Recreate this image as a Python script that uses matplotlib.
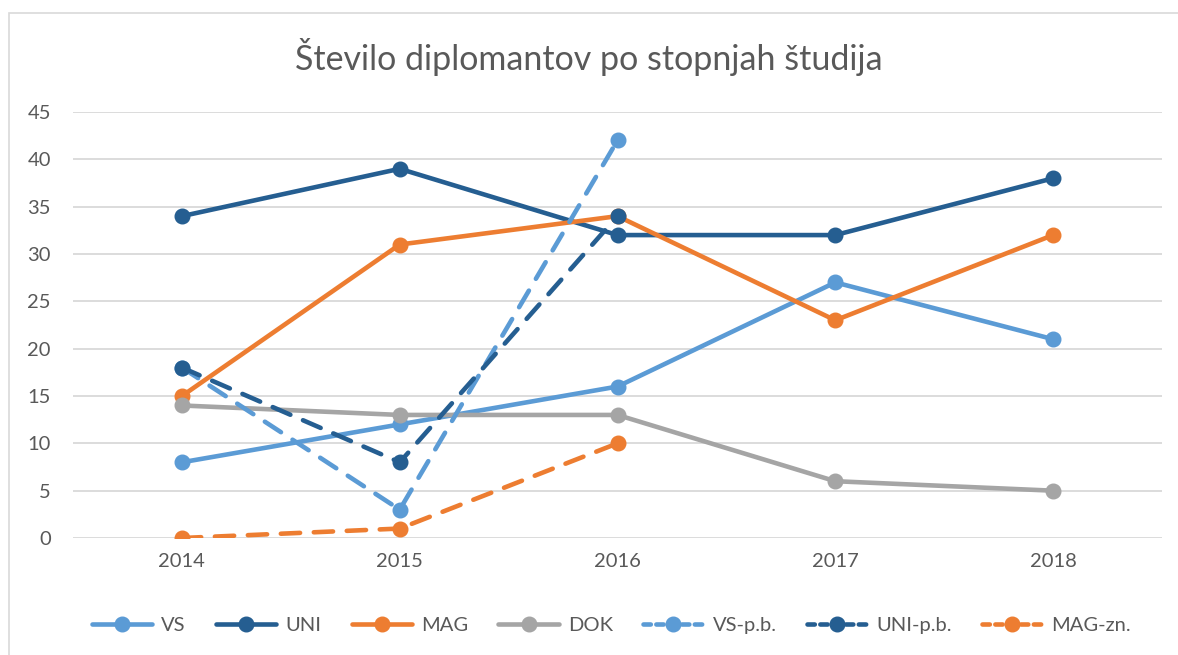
import matplotlib
matplotlib.use("Agg")
import matplotlib.pyplot as plt
from matplotlib.patches import Rectangle

plt.rcParams["font.family"] = ["Lato", "DejaVu Sans"]

# Data.
years = ["2014", "2015", "2016", "2017", "2018"]
vs = [8, 12, 16, 27, 21]
uni = [34, 39, 32, 32, 38]
mag = [15, 31, 34, 23, 32]
dok = [14, 13, 13, 6, 5]
vs_pb = [18, 3, 42]
uni_pb = [18, 8, 34]
mag_zn = [0, 1, 10]

light_blue = "#5B9BD5"
dark_blue = "#255E91"
orange = "#ED7D31"
grey = "#A5A5A5"

fig = plt.figure(figsize=(11.78, 6.55), dpi=100)
ax = fig.add_axes([0.062, 0.1786, 0.9244, 0.6504])

# Light border around the whole chart, like the Excel chart area.
fig.patches.append(Rectangle((9 / 1178, -0.1), 1.2, 1 - 13 / 655 + 0.1,
                             transform=fig.transFigure, fill=False,
                             edgecolor="#D9D9D9", linewidth=1.2))

x_full = list(range(len(years)))
x_part = list(range(3))

series = [
    ("VS", x_full, vs, light_blue, "-"),
    ("UNI", x_full, uni, dark_blue, "-"),
    ("MAG", x_full, mag, orange, "-"),
    ("DOK", x_full, dok, grey, "-"),
    ("VS-p.b.", x_part, vs_pb, light_blue, "--"),
    ("UNI-p.b.", x_part, uni_pb, dark_blue, "--"),
    ("MAG-zn.", x_part, mag_zn, orange, "--"),
]

for i, (name, xs, ys, col, ls) in enumerate(series):
    line, = ax.plot(xs, ys, color=col, linestyle=ls, linewidth=3.3,
                    marker="o", markersize=10.5, label=name, zorder=3 + i,
                    solid_capstyle="round", dash_capstyle="round")
    if ls == "--":
        line.set_dashes([4.2, 3.0])

ax.set_xlim(-0.5, 4.5)
ax.set_ylim(0, 45)
ax.set_yticks(range(0, 46, 5))
ax.set_xticks(x_full)
ax.set_xticklabels(years)
ax.grid(axis="y", color="#D9D9D9", linewidth=1.3)
ax.set_axisbelow(True)
for s in ax.spines.values():
    s.set_visible(False)
ax.tick_params(length=0, labelsize=14.5, labelcolor="#595959")
ax.tick_params(axis="y", pad=16)
ax.tick_params(axis="x", pad=11)

fig.text(0.5, 0.913, "Število diplomantov po stopnjah študija",
         ha="center", va="center", fontsize=24.5, color="#595959")

leg = fig.legend(loc="center", bbox_to_anchor=(0.519, 0.045), ncol=7,
                 frameon=False, fontsize=14.5, handlelength=3.0,
                 columnspacing=1.5, handletextpad=0.45)
for t in leg.get_texts():
    t.set_color("#595959")
for h in leg.get_lines():
    if h.get_linestyle() == "--":
        h.set_dashes([1.6, 1.2])

fig.savefig("out.png", dpi=100)
